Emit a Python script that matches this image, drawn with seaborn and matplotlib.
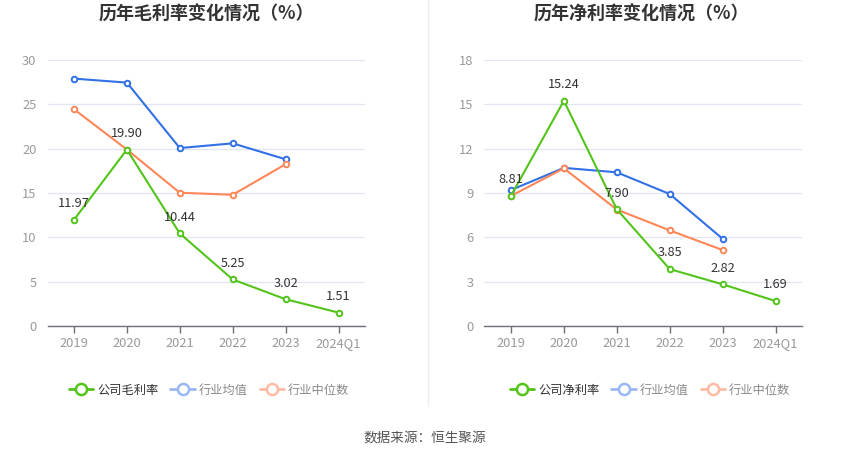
import matplotlib
matplotlib.use("Agg")
import matplotlib.pyplot as plt
from matplotlib.lines import Line2D
import seaborn as sns
import numpy as np
import pandas as pd

# ---- data ----
categories = ["2019", "2020", "2021", "2022", "2023", "2024Q1"]
gross_company = [11.97, 19.90, 10.44, 5.25, 3.02, 1.51]
gross_ind_avg = [27.9, 27.45, 20.07, 20.6, 18.8, np.nan]
gross_ind_med = [24.45, 19.9, 15.03, 14.8, 18.25, np.nan]
net_company = [8.81, 15.24, 7.90, 3.85, 2.82, 1.69]
net_ind_avg = [9.2, 10.7, 10.4, 8.93, 5.9, np.nan]
net_ind_med = [8.8, 10.67, 7.88, 6.47, 5.14, np.nan]

titles = ["历年毛利率变化情况（%）", "历年净利率变化情况（%）"]
legend_labels_left = ["公司毛利率", "行业均值", "行业中位数"]
legend_labels_right = ["公司净利率", "行业均值", "行业中位数"]
source_text = "数据来源：恒生聚源"

sns.set_theme(style="white")
plt.rcParams['font.family'] = ['Noto Sans CJK SC', 'DejaVu Sans']

GREEN = "#52c41a"
BLUE = "#3270e6"
ORANGE = "#ff8656"
BLUE_L = "#9ab8f5"
ORANGE_L = "#ffbba3"
GRID = "#e0e6f1"
AXIS = "#6e7079"
TICK = "#9a9a9a"
TEXT = "#333333"

W, H = 850, 459
fig = plt.figure(figsize=(W / 100, H / 100), dpi=100)
fig.patch.set_facecolor("white")


def px_axes(x0, x1, ytop, ybot):
    return fig.add_axes([x0 / W, 1 - ybot / H, (x1 - x0) / W, (ybot - ytop) / H])


def draw(ax, comp, avg, med, ymax, step, title, cx, labels, lx):
    x = np.arange(len(categories))
    for vals, col in [(avg, BLUE), (med, ORANGE), (comp, GREEN)]:
        df = pd.DataFrame({"x": x, "y": vals}).dropna()
        sns.lineplot(data=df, x="x", y="y", ax=ax, color=col, lw=1.5,
                     marker="o", markersize=4, markerfacecolor="white",
                     markeredgecolor=col, markeredgewidth=1.4, zorder=3)
    for xi, v in zip(x, comp):
        ax.annotate(f"{v:.2f}", (xi, v), xytext=(0, 7), textcoords="offset points",
                    ha="center", va="bottom", fontsize=9.2, color=TEXT, zorder=5)
    ax.set_xlim(-0.5, len(categories) - 0.5)
    ax.set_ylim(0, ymax)
    ax.set_yticks(np.arange(0, ymax + 0.01, step))
    ax.set_yticklabels([f"{int(t)}" for t in np.arange(0, ymax + 0.01, step)])
    ax.set_xticks(x)
    ax.set_xticklabels(categories)
    ax.set_xlabel("")
    ax.set_ylabel("")
    ax.grid(axis="y", color=GRID, lw=0.9)
    ax.set_axisbelow(True)
    for s in ["top", "right", "left"]:
        ax.spines[s].set_visible(False)
    ax.spines["bottom"].set_color(AXIS)
    ax.spines["bottom"].set_linewidth(1)
    ax.tick_params(axis="x", colors=AXIS, length=5, width=1, pad=3, labelsize=9.3,
                   labelcolor=TICK, bottom=True)
    ax.tick_params(axis="y", length=0, pad=8, labelsize=9.3, labelcolor=TICK)
    fig.text(cx / W, 1 - 14 / H, title, ha="center", va="center", fontsize=13,
             fontweight="bold", color=TEXT)
    handles = [
        Line2D([0], [0], color=GREEN, lw=2, marker="o", markersize=8,
               markerfacecolor="white", markeredgecolor=GREEN, markeredgewidth=1.8),
        Line2D([0], [0], color=BLUE_L, lw=2, marker="o", markersize=8,
               markerfacecolor="white", markeredgecolor=BLUE_L, markeredgewidth=1.8),
        Line2D([0], [0], color=ORANGE_L, lw=2, marker="o", markersize=8,
               markerfacecolor="white", markeredgecolor=ORANGE_L, markeredgewidth=1.8),
    ]
    leg = fig.legend(handles, labels, loc="center left", bbox_to_anchor=(lx / W, 1 - 390 / H),
                     ncol=3, frameon=False, fontsize=8.8, handlelength=2.0,
                     handletextpad=0.3, columnspacing=1.0, borderaxespad=0)
    for i, t in enumerate(leg.get_texts()):
        t.set_color(TEXT if i == 0 else "#8a8a8a")


ax1 = px_axes(47.5, 365, 60, 326)
draw(ax1, gross_company, gross_ind_avg, gross_ind_med, 30, 5, titles[0], 206,
     legend_labels_left, 64)
ax2 = px_axes(484.5, 802, 60, 326)
draw(ax2, net_company, net_ind_avg, net_ind_med, 18, 3, titles[1], 641,
     legend_labels_right, 505)

# divider
fig.add_artist(Line2D([427.5 / W, 427.5 / W], [1, 1 - 406 / H], color="#eeeeee", lw=1))

fig.text(425 / W, 1 - 438 / H, source_text, ha="center", va="center", fontsize=9.8,
         color="#555555")

fig.savefig("out.png", dpi=100, facecolor="white")
